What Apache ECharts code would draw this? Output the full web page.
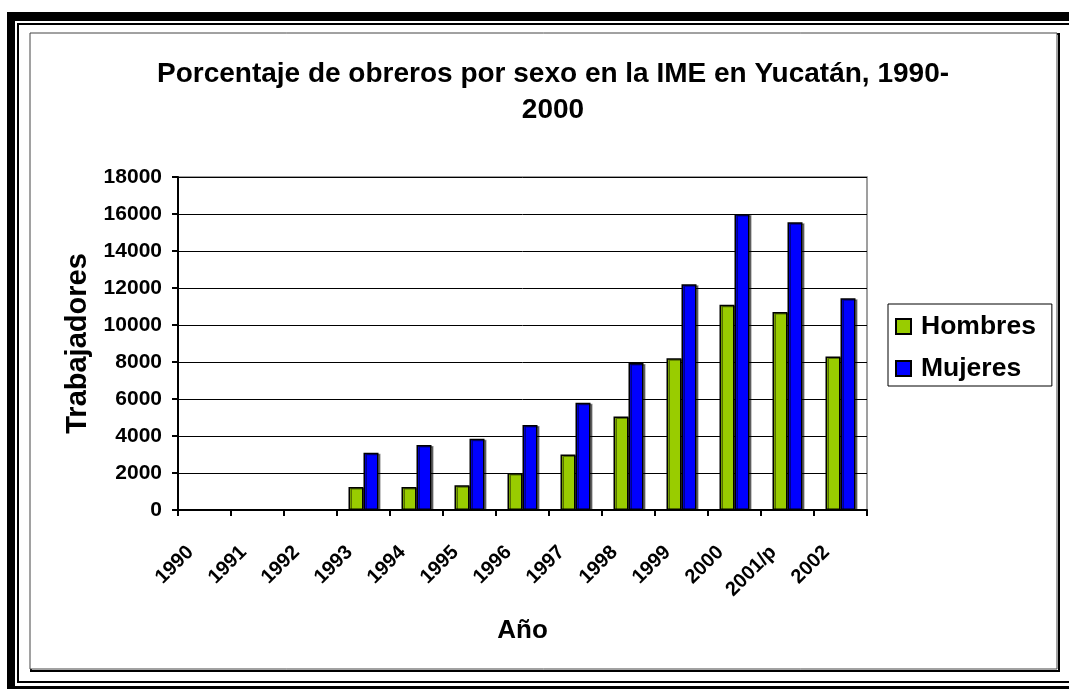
<!DOCTYPE html>
<html>
<head>
<meta charset="utf-8">
<script src="https://cdn.jsdelivr.net/npm/echarts@6/dist/echarts.min.js"></script>
<style>
html,body{margin:0;padding:0;background:#fff;}
#c{width:1069px;height:689px;}
</style>
</head>
<body>
<div id="c"></div>
<script>
const categories = ['1990','1991','1992','1993','1994','1995','1996','1997','1998','1999','2000','2001/p','2002'];
const hombres = [null, null, null, 1250, 1250, 1340, 2000, 3000, 5050, 8200, 11100, 10700, 8300];
const mujeres = [null, null, null, 3100, 3520, 3850, 4600, 5800, 7950, 12200, 16000, 15550, 11450];
const yTicks = {min: 0, max: 18000, interval: 2000};

const FONT = '"Liberation Sans", Arial, sans-serif';
const chart = echarts.init(document.getElementById('c'));

const barStyle = (color) => ({
  color: color,
  borderColor: '#000',
  borderWidth: 1.5,
  shadowColor: 'rgba(0,0,0,0.45)',
  shadowOffsetX: 2,
  shadowOffsetY: 1,
  shadowBlur: 0
});

chart.setOption({
  animation: false,
  backgroundColor: '#fff',
  graphic: [
    {type: 'rect', z: -100, silent: true, shape: {x: 7, y: 12, width: 1100, height: 700}, style: {fill: '#000'}},
    {type: 'rect', z: -99, silent: true, shape: {x: 15, y: 21, width: 1100, height: 665}, style: {fill: '#fff'}},
    {type: 'rect', z: -98, silent: true, shape: {x: 17, y: 23, width: 1100, height: 660}, style: {fill: '#000'}},
    {type: 'rect', z: -97, silent: true, shape: {x: 19, y: 25, width: 1100, height: 656}, style: {fill: '#fff'}},
    {type: 'rect', z: -96, silent: true, shape: {x: 31, y: 34, width: 1028, height: 637}, style: {fill: 'none', stroke: '#000', lineWidth: 2}},
    {type: 'rect', z: -95, silent: true, shape: {x: 30, y: 33, width: 1027, height: 636}, style: {fill: '#fff', stroke: '#444', lineWidth: 1}}
  ],
  title: {
    text: 'Porcentaje de obreros por sexo en la IME en Yucatán, 1990-\n2000',
    left: 548,
    top: 51,
    textAlign: 'center',
    textStyle: {fontFamily: FONT, fontWeight: 'bold', fontSize: 28, color: '#000', lineHeight: 36}
  },
  legend: {
    orient: 'vertical',
    left: 888,
    top: 304,
    width: 165,
    padding: [9, 16, 4, 7],
    itemGap: 15,
    itemWidth: 15,
    itemHeight: 15,
    icon: 'rect',
    backgroundColor: '#fff',
    borderColor: '#000',
    borderWidth: 1,
    textStyle: {fontFamily: FONT, fontWeight: 'bold', fontSize: 26.5, color: '#000', padding: [0, 0, 0, 5]},
    data: ['Hombres', 'Mujeres']
  },
  grid: {
    left: 178, right: 202, top: 177, bottom: 179,
    show: true, borderColor: '#808080', borderWidth: 1.5, backgroundColor: '#fff'
  },
  xAxis: {
    type: 'category',
    data: categories,
    name: 'Año',
    nameLocation: 'middle',
    nameGap: 108,
    nameTextStyle: {fontFamily: FONT, fontWeight: 'bold', fontSize: 26, color: '#000'},
    axisLine: {lineStyle: {color: '#000', width: 2}},
    axisTick: {show: true, length: 6, lineStyle: {color: '#000', width: 2}},
    axisLabel: {
      rotate: 45, margin: 25, interval: 0,
      fontFamily: FONT, fontWeight: 'bold', fontSize: 20, color: '#000',
      padding: [0, 20, 0, 0]
    },
    splitLine: {show: false}
  },
  yAxis: {
    type: 'value',
    min: yTicks.min, max: yTicks.max, interval: yTicks.interval,
    name: 'Trabajadores',
    nameLocation: 'middle',
    nameGap: 82,
    nameRotate: 90,
    nameTextStyle: {fontFamily: FONT, fontWeight: 'bold', fontSize: 29, color: '#000'},
    axisLine: {show: true, lineStyle: {color: '#000', width: 2}},
    axisTick: {show: true, length: 6, lineStyle: {color: '#000', width: 2}},
    axisLabel: {
      margin: 16, fontFamily: FONT, fontWeight: 'bold', fontSize: 21, color: '#000',
      formatter: (v) => String(v)
    },
    splitLine: {show: true, lineStyle: {color: '#000', width: 1}}
  },
  series: [
    {name: 'Hombres', type: 'bar', data: hombres, barWidth: 15, barGap: '0%', itemStyle: barStyle('#99CC00')},
    {name: 'Mujeres', type: 'bar', data: mujeres, barWidth: 15, barGap: '0%', itemStyle: barStyle('#0000FF')}
  ]
});
</script>
</body>
</html>
